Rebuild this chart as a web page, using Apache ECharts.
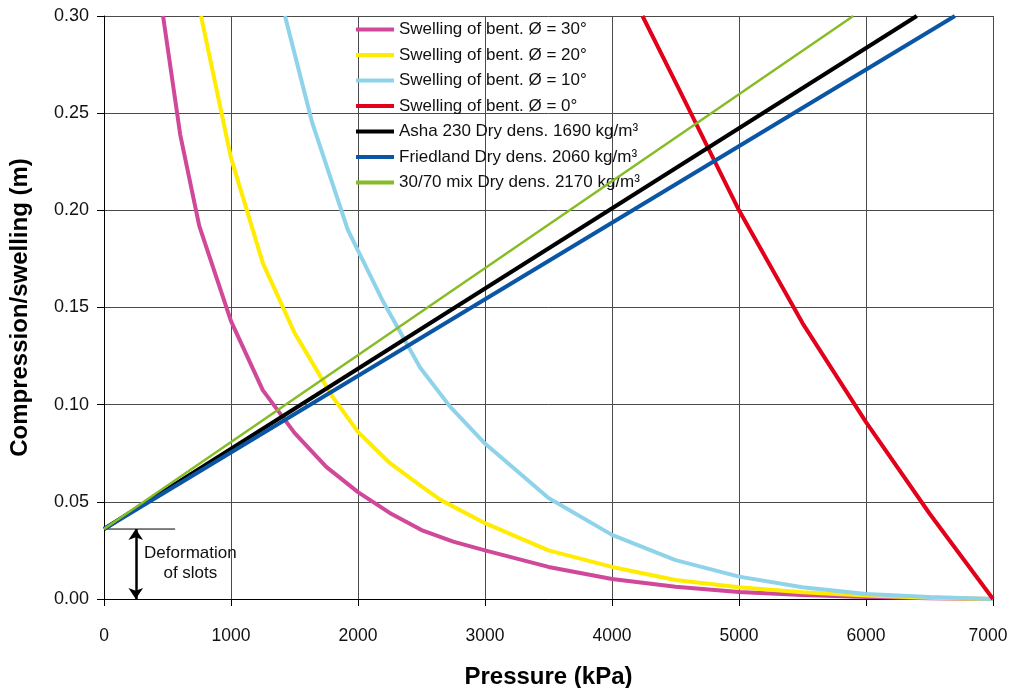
<!DOCTYPE html>
<html>
<head>
<meta charset="utf-8">
<script src="https://cdn.jsdelivr.net/npm/echarts@6/dist/echarts.min.js"></script>
<style>
html,body{margin:0;padding:0;background:#fff;overflow:hidden;}
#c{width:1010px;height:688px;}
</style>
</head>
<body>
<div id="c"></div>
<script>
// ---- data (pressure kPa, compression/swelling m) ----
var xTicks = [0, 1000, 2000, 3000, 4000, 5000, 6000, 7000];
var yTicks = [0, 0.05, 0.10, 0.15, 0.20, 0.25, 0.30];

var s30x = [465, 600, 750, 1000, 1250, 1500, 1750, 2000, 2250, 2500, 2750, 3000, 3500, 4000, 4500, 5000, 5500, 6000, 6500, 7000];
var s30y = [0.30, 0.239, 0.192, 0.143, 0.1075, 0.0855, 0.068, 0.055, 0.0443, 0.0355, 0.0295, 0.025, 0.0165, 0.0103, 0.0063, 0.0036, 0.002, 0.001, 0.0004, 0];

var s20x = [764, 1000, 1250, 1500, 1800, 2000, 2250, 2500, 2650, 3000, 3500, 4000, 4500, 5000, 5500, 6000, 6500, 7000];
var s20y = [0.30, 0.227, 0.173, 0.137, 0.104, 0.086, 0.070, 0.058, 0.051, 0.039, 0.025, 0.0165, 0.0098, 0.006, 0.0035, 0.0018, 0.0006, 0];

var s10x = [1425, 1640, 1920, 2190, 2490, 2725, 3000, 3500, 4000, 4500, 5000, 5500, 6000, 6500, 7000];
var s10y = [0.30, 0.245, 0.19, 0.154, 0.119, 0.099, 0.080, 0.052, 0.033, 0.020, 0.0115, 0.006, 0.0026, 0.001, 0];

var s0x = [4240, 4500, 5000, 5500, 6000, 6500, 7000];
var s0y = [0.30, 0.266, 0.20, 0.142, 0.091, 0.044, 0];

var ashaX = [0, 6400];
var ashaY = [0.036, 0.30];
var friedX = [0, 6700];
var friedY = [0.036, 0.30];
var mixX = [0, 5900];
var mixY = [0.036, 0.30];

// annotation "Deformation of slots"
var slotLevel = 0.036;
var slotLineX = [0, 560];
var slotArrowX = 250;
var slotTextPos = [680, 0.0185];
var slotText = 'Deformation\nof slots';

var names = [
  'Swelling of bent. Ø = 30°',
  'Swelling of bent. Ø = 20°',
  'Swelling of bent. Ø = 10°',
  'Swelling of bent. Ø = 0°',
  'Asha 230 Dry dens. 1690 kg/m³',
  'Friedland Dry dens. 2060 kg/m³',
  '30/70 mix Dry dens. 2170 kg/m³'
];
var colors = ['#d0489a', '#ffec00', '#8fd3ea', '#e2001a', '#000000', '#0b56a4', '#86bc25'];
var widths = [4, 4, 4, 4, 4, 4, 2.5];

function zip(xs, ys) { return xs.map(function (x, i) { return [x, ys[i]]; }); }

var FONT = '"Liberation Sans", Arial, sans-serif';
var seriesData = [zip(s30x, s30y), zip(s20x, s20y), zip(s10x, s10y), zip(s0x, s0y),
                  zip(ashaX, ashaY), zip(friedX, friedY), zip(mixX, mixY)];

var series = seriesData.map(function (d, i) {
  return {
    name: names[i], type: 'line', data: d, showSymbol: false, symbol: 'none',
    color: colors[i], lineStyle: { color: colors[i], width: widths[i] },
    smooth: false, z: 2 + i
  };
});

series.push({
  name: 'slotline', type: 'line', symbol: 'none', silent: true,
  data: [[slotLineX[0], slotLevel], [slotLineX[1], slotLevel]],
  lineStyle: { color: '#000', width: 1 }, z: 1
});
series.push({
  name: 'slotarrow', type: 'lines', coordinateSystem: 'cartesian2d', silent: true,
  symbol: ['arrow', 'arrow'], symbolSize: 11,
  lineStyle: { color: '#000', width: 2.5, opacity: 1 },
  data: [{ coords: [[slotArrowX, slotLevel], [slotArrowX, 0]] }], z: 1
});

var xMax = xTicks[xTicks.length - 1];
var chart = echarts.init(document.getElementById('c'), null, { renderer: 'canvas' });
chart.setOption({
  animation: false,
  backgroundColor: '#fff',
  grid: { left: 104, right: 17, top: 16, bottom: 89, containLabel: false, outerBoundsMode: 'none' },
  legend: {
    data: names, orient: 'vertical', left: 356, top: 21, padding: 0,
    itemWidth: 38, itemHeight: 4, itemGap: 8.5, icon: 'rect',
    textStyle: { fontFamily: FONT, fontSize: 17, color: '#111' }
  },
  xAxis: {
    type: 'value', min: xTicks[0], max: xMax, interval: 1000,
    name: 'Pressure (kPa)', nameLocation: 'middle', nameGap: 66,
    nameTextStyle: { fontFamily: FONT, fontSize: 24, fontWeight: 'bold', color: '#000' },
    axisLine: { show: true, lineStyle: { color: '#000', width: 1 } },
    axisTick: { show: true, inside: false, length: 7, lineStyle: { color: '#000' } },
    axisLabel: { margin: 28, fontFamily: FONT, fontSize: 17.5, color: '#111',
                 formatter: function (v) { return v === xMax ? '{m|' + v + '}' : String(v); },
                 rich: { m: { fontFamily: FONT, fontSize: 17.5, color: '#111', padding: [0, 10, 0, 0] } } },
    splitLine: { show: true, lineStyle: { color: '#4a4a4a', width: 1 } }
  },
  yAxis: {
    type: 'value', min: yTicks[0], max: yTicks[yTicks.length - 1], interval: 0.05,
    name: 'Compression/swelling (m)', nameLocation: 'middle', nameGap: 72,
    nameTextStyle: { fontFamily: FONT, fontSize: 24, fontWeight: 'bold', color: '#000' },
    axisLine: { show: true, lineStyle: { color: '#000', width: 1 } },
    axisTick: { show: true, inside: false, length: 7, lineStyle: { color: '#000' } },
    axisLabel: { margin: 15, fontFamily: FONT, fontSize: 18, color: '#111', padding: [6, 0, 0, 0],
                 formatter: function (v) { return v.toFixed(2); } },
    splitLine: { show: true, lineStyle: { color: '#4a4a4a', width: 1 } }
  },
  series: series
});

var p = chart.convertToPixel({ gridIndex: 0 }, slotTextPos);
chart.setOption({
  graphic: [{
    type: 'text', x: p[0], y: p[1], z: 100, silent: true,
    style: { text: slotText, fill: '#111', font: '17px ' + FONT, lineHeight: 20,
             align: 'center', verticalAlign: 'middle' }
  }]
});
</script>
</body>
</html>
